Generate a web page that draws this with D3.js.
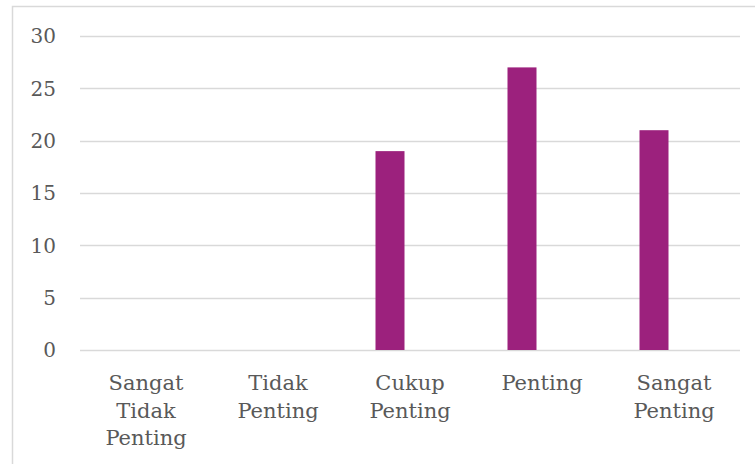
<!DOCTYPE html>
<html>
<head>
<meta charset="utf-8">
<script src="https://cdn.jsdelivr.net/npm/d3@7"></script>
<style>
  html, body { margin: 0; padding: 0; background: #fff; }
  svg { display: block; }
  text { font-family: "DejaVu Serif", serif; fill: #595959; }
</style>
</head>
<body>
<svg id="chart" width="755" height="464"></svg>
<script>
// Response categories (multi-line labels) and counts
const categories = [
  ["Sangat", "Tidak", "Penting"],
  ["Tidak", "Penting"],
  ["Cukup", "Penting"],
  ["Penting"],
  ["Sangat", "Penting"]
];
const values = [0, 0, 19, 27, 21];
const yTicks = [0, 5, 10, 15, 20, 25, 30];

const svg = d3.select("#chart");
const W = 755, H = 464;

// Outer chart frame
svg.append("rect")
  .attr("x", 12.5).attr("y", 6.5)
  .attr("width", W + 10).attr("height", H + 10)
  .attr("fill", "#fff").attr("stroke", "#d9d9d9").attr("stroke-width", 1.5);

const plot = { left: 80, right: 740, top: 36, bottom: 350 };

const x = d3.scaleBand()
  .domain(d3.range(categories.length))
  .range([plot.left, plot.right]);

const y = d3.scaleLinear().domain([0, 30]).range([plot.bottom, plot.top]);

const barWidth = 29;
const barShift = -20; // bars sit left of the category centre

// Gridlines
svg.append("g").selectAll("line")
  .data(yTicks)
  .join("line")
  .attr("x1", plot.left).attr("x2", plot.right)
  .attr("y1", d => Math.round(y(d)) + 0.5).attr("y2", d => Math.round(y(d)) + 0.5)
  .attr("stroke", "#d9d9d9").attr("stroke-width", 1.5);

// Y tick labels
svg.append("g").selectAll("text")
  .data(yTicks)
  .join("text")
  .attr("x", 56).attr("y", d => y(d))
  .attr("dy", "0.36em")
  .attr("text-anchor", "end")
  .attr("font-size", 20)
  .text(d => d);

// Bars
svg.append("g").selectAll("rect")
  .data(values)
  .join("rect")
  .attr("x", (d, i) => x(i) + x.bandwidth() / 2 + barShift - barWidth / 2)
  .attr("width", barWidth)
  .attr("y", d => y(d))
  .attr("height", d => y(0) - y(d))
  .attr("fill", "#9c217d");

// Category labels
svg.append("g").selectAll("text")
  .data(categories)
  .join("text")
  .attr("text-anchor", "middle")
  .attr("font-size", 21)
  .attr("transform", (d, i) => `translate(${x(i) + x.bandwidth() / 2},390)`)
  .selectAll("tspan")
  .data(d => d)
  .join("tspan")
  .attr("x", 0)
  .attr("y", (d, j) => j * 27.5)
  .text(d => d);
</script>
</body>
</html>
